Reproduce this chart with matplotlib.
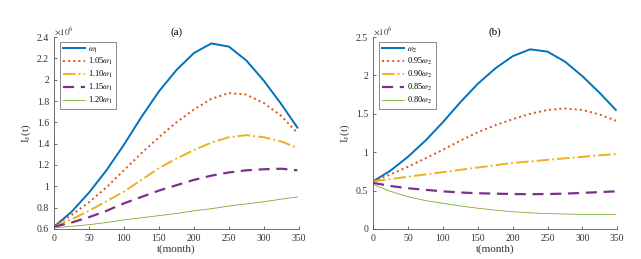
import numpy as np
import matplotlib
matplotlib.use('Agg')
import matplotlib.pyplot as plt

plt.rcParams['font.family'] = ['Liberation Serif', 'DejaVu Serif']
plt.rcParams['mathtext.fontset'] = 'stix'

# months
t = [0, 25, 50, 75, 100, 125, 150, 175, 200, 225, 250, 275, 300, 325, 348]

# panel (a): I_s(t) in units of 1e6, omega_1 varied
a_w = [0.62, 0.76, 0.94, 1.15, 1.39, 1.65, 1.89, 2.09, 2.25, 2.34, 2.31, 2.18, 1.99, 1.77, 1.55]
a_105 = [0.63, 0.73, 0.85, 0.99, 1.15, 1.31, 1.46, 1.60, 1.72, 1.82, 1.875, 1.86, 1.78, 1.66, 1.50]
a_110 = [0.62, 0.69, 0.77, 0.86, 0.95, 1.06, 1.17, 1.26, 1.34, 1.41, 1.46, 1.48, 1.46, 1.42, 1.36]
a_115 = [0.62, 0.66, 0.71, 0.77, 0.84, 0.90, 0.96, 1.01, 1.06, 1.10, 1.13, 1.15, 1.16, 1.165, 1.15]
a_120 = [0.61, 0.625, 0.64, 0.66, 0.685, 0.705, 0.725, 0.745, 0.77, 0.79, 0.815, 0.835, 0.855, 0.88, 0.90]

# panel (b): omega_2 varied
b_w = [0.62, 0.76, 0.94, 1.15, 1.39, 1.65, 1.89, 2.09, 2.25, 2.34, 2.31, 2.18, 1.99, 1.77, 1.55]
b_095 = [0.62, 0.71, 0.81, 0.92, 1.03, 1.15, 1.26, 1.35, 1.43, 1.50, 1.55, 1.57, 1.55, 1.49, 1.41]
b_090 = [0.62, 0.65, 0.68, 0.71, 0.74, 0.77, 0.80, 0.83, 0.86, 0.88, 0.90, 0.92, 0.94, 0.96, 0.975]
b_085 = [0.60, 0.56, 0.53, 0.51, 0.49, 0.475, 0.465, 0.46, 0.455, 0.453, 0.455, 0.46, 0.47, 0.48, 0.49]
b_080 = [0.58, 0.49, 0.42, 0.37, 0.335, 0.30, 0.27, 0.245, 0.225, 0.21, 0.20, 0.195, 0.19, 0.19, 0.19]

labels_a = [r'$\omega_1$', r'1.05$\omega_1$', r'1.10$\omega_1$', r'1.15$\omega_1$', r'1.20$\omega_1$']
labels_b = [r'$\omega_2$', r'0.95$\omega_2$', r'0.90$\omega_2$', r'0.85$\omega_2$', r'0.80$\omega_2$']

colors = ['#0072BD', '#D95319', '#EDB120', '#7E2F8E', '#77AC30']
styles = ['-', ':', '-.', (0, (5, 3)), '-']
widths = [1.4, 1.4, 1.4, 1.6, 0.6]

fig = plt.figure(figsize=(6.41, 2.59), dpi=100)
ax1 = fig.add_axes([0.0842, 0.116, 0.382, 0.741])
ax2 = fig.add_axes([0.582, 0.116, 0.381, 0.741])

panels = [
    (ax1, [a_w, a_105, a_110, a_115, a_120], labels_a, '(a)', (0.6, 2.4), np.arange(0.6, 2.41, 0.2)),
    (ax2, [b_w, b_095, b_090, b_085, b_080], labels_b, '(b)', (0, 2.5), np.arange(0, 2.51, 0.5)),
]

for ax, series, labels, title, ylim, yticks in panels:
    for y, lab, c, ls, lw in zip(series, labels, colors, styles, widths):
        ax.plot(t, y, color=c, linestyle=ls, linewidth=lw, label=lab)
    ax.set_xlim(0, 350)
    ax.set_ylim(*ylim)
    ax.set_xticks(np.arange(0, 351, 50))
    ax.set_yticks(yticks)
    ax.set_yticklabels([f'{v:g}' for v in yticks])
    for s in ['top', 'right']:
        ax.spines[s].set_visible(False)
    for s in ['left', 'bottom']:
        ax.spines[s].set_color('#555555')
        ax.spines[s].set_linewidth(0.6)
    ax.tick_params(direction='in', labelsize=7, length=2.5, width=0.6,
                   colors='#555555', labelcolor='#333333')
    ax.set_title(title, fontsize=8, pad=1)
    ax.set_xlabel('t(month)', fontsize=8, labelpad=1, color='#333333')
    ax.set_ylabel(r'I$_s$(t)', fontsize=8, labelpad=3, color='#333333')
    ax.text(0.0, 1.0, r'$\times10^6$', transform=ax.transAxes, fontsize=6.5,
            ha='left', va='bottom', color='#333333')
    leg = ax.legend(loc='upper left', bbox_to_anchor=(0.024, 0.974), borderaxespad=0,
                    fontsize=6, frameon=True, fancybox=False, handlelength=2.6,
                    labelspacing=0.2, borderpad=0.4, handletextpad=0.4)
    leg.get_frame().set_edgecolor('#555555')
    leg.get_frame().set_linewidth(0.6)

fig.savefig('out.png', dpi=100)
